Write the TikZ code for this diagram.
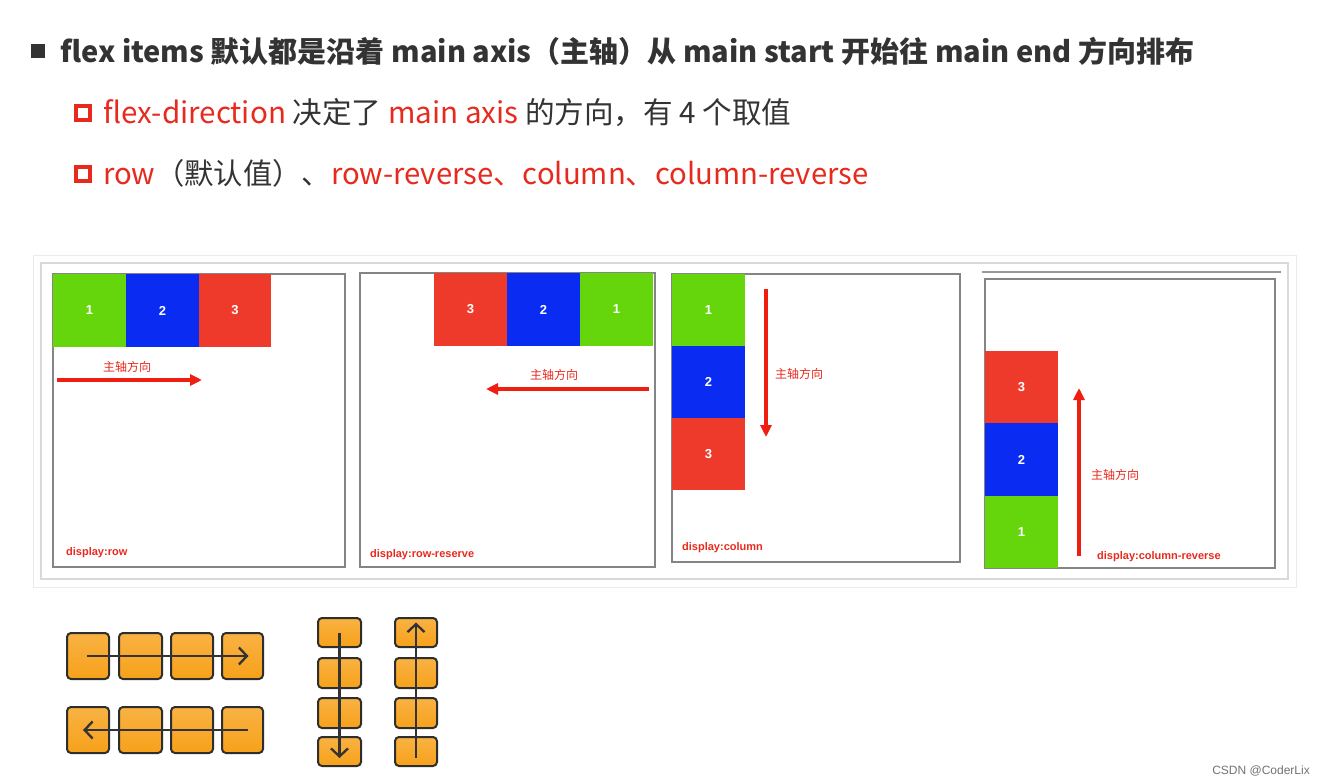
\documentclass[tikz,border=0pt]{standalone}
\usepackage{fontspec}
\newfontfamily\cjk{Noto Sans CJK SC}
\newfontfamily\lab{Liberation Sans}
\usetikzlibrary{arrows.meta}
\definecolor{hdr}{HTML}{333333}
\definecolor{rtxt}{HTML}{E82A1E}
\definecolor{igreen}{HTML}{66D60C}
\definecolor{iblue}{HTML}{0A2CF2}
\definecolor{ired}{HTML}{EE3A2B}
\definecolor{arrred}{HTML}{F01E10}
\definecolor{org}{HTML}{F7A11A}
\definecolor{bx}{HTML}{858585}
\tikzset{
  hdrtext/.style={anchor=base west, inner sep=0, text=hdr, font=\cjk\fontsize{29.3}{29.3}\selectfont},
  itembox/.style={anchor=north west, inner sep=0, outer sep=0, minimum width=73pt, minimum height=73pt, text=white, font=\lab\bfseries\fontsize{13}{13}\selectfont},
  flexbox/.style={draw=bx, line width=1.2pt},
  axislab/.style={inner sep=0, text=rtxt, font=\cjk\fontsize{12}{12}\selectfont},
  disp/.style={anchor=base west, inner sep=0, text=rtxt, font=\lab\bfseries\fontsize{11}{11}\selectfont},
  redarr/.style={draw=arrred, line width=3.5pt, -{Triangle[length=12pt,width=11pt]}},
  obox/.style={anchor=north west, inner sep=0, outer sep=0, draw=hdr!90!black, line width=2pt, rounded corners=4pt, top color=org!82!white, bottom color=org},
  barb/.style={draw=hdr, line width=2.3pt, -{Straight Barb[length=8pt,width=17pt]}},
}
\begin{document}
\begin{tikzpicture}[x=1pt,y=-1pt]
\useasboundingbox (0,0) rectangle (1325,784);
\fill[white] (0,0) rectangle (1325,784);
% header
\node[fill=hdr, minimum size=14pt, inner sep=0] (b1) at (38,51) {};
\node[hdrtext, font=\cjk\bfseries\fontsize{29}{29}\selectfont] (h1) at (60,63) {flex items 默认都是沿着 main axis（主轴）从 main start 开始往 main end 方向排布};
\node[draw=rtxt, line width=3.5pt, minimum size=14pt, inner sep=0] (b2) at (83,113) {};
\node[hdrtext, font=\cjk\fontsize{29.6}{29.6}\selectfont] (h2) at (103,123) {\textcolor{rtxt}{flex-direction} 决定了 \textcolor{rtxt}{main axis} 的方向，有 4 个取值};
\node[draw=rtxt, line width=3.5pt, minimum size=14pt, inner sep=0] (b3) at (83,174) {};
\node[hdrtext] (h3) at (103,184) {\textcolor{rtxt}{row}（默认值）、\textcolor{rtxt}{row-reverse、column、column-reverse}};
% panel
\draw[draw=black!8, line width=1pt] (33,255) rectangle (1296,587);
\draw[draw=black!15, line width=1.5pt] (41,263) rectangle (1288,579);
% box 1
\draw[flexbox] (53,274) rectangle (345,567);
\node[itembox, fill=igreen] (p1a) at (53,274) {1};
\node[itembox, fill=iblue] (p1b) at (126,274) {2};
\node[itembox, fill=ired, minimum width=72pt] (p1c) at (199,274) {3};
\node[axislab] (l1) at (127,367) {主轴方向};
\coordinate (a1s) at (57,380);
\coordinate (a1e) at (202,380);
\draw[redarr] (a1s) -- (a1e);
\node[disp] (d1) at (66,555) {display:row};
% box 2
\draw[flexbox] (360,273) rectangle (655,567);
\node[itembox, fill=ired] (p2c) at (434,273) {3};
\node[itembox, fill=iblue] (p2b) at (507,273) {2};
\node[itembox, fill=igreen] (p2a) at (580,273) {1};
\node[axislab] (l2) at (554,375) {主轴方向};
\coordinate (a2s) at (649,389);
\coordinate (a2e) at (486,389);
\draw[redarr] (a2s) -- (a2e);
\node[disp] (d2) at (370,557) {display:row-reserve};
% box 3
\draw[flexbox] (672,274) rectangle (960,562);
\node[itembox, fill=igreen, minimum height=72pt] (p3a) at (672,274) {1};
\node[itembox, fill=iblue, minimum height=72pt] (p3b) at (672,346) {2};
\node[itembox, fill=ired, minimum height=72pt] (p3c) at (672,418) {3};
\node[axislab, anchor=west] (l3) at (775,374) {主轴方向};
\coordinate (a3s) at (766,289);
\coordinate (a3e) at (766,437);
\draw[redarr] (a3s) -- (a3e);
\node[disp] (d3) at (682,550) {display:column};
% box 4
\draw[draw=black!40, line width=1.8pt] (982,272) -- (1281,272);
\draw[flexbox] (985,279) rectangle (1275,568);
\node[itembox, fill=ired, minimum height=72pt] (p4c) at (985,351) {3};
\node[itembox, fill=iblue, minimum height=73pt] (p4b) at (985,423) {2};
\node[itembox, fill=igreen, minimum height=72pt] (p4a) at (985,496) {1};
\node[axislab, anchor=west] (l4) at (1091,475) {主轴方向};
\coordinate (a4s) at (1079,556);
\coordinate (a4e) at (1079,388);
\draw[redarr] (a4s) -- (a4e);
\node[disp] (d4) at (1097,559) {display:column-reverse};
% bottom orange boxes, row 1
\node[obox, minimum width=42pt, minimum height=46pt] (r1a) at (67,633) {};
\node[obox, minimum width=43pt, minimum height=46pt] (r1b) at (119,633) {};
\node[obox, minimum width=42pt, minimum height=46pt] (r1c) at (171,633) {};
\node[obox, minimum width=41pt, minimum height=46pt] (r1d) at (222,633) {};
\draw[barb] ([xshift=-1pt]r1a.center) -- ([xshift=6pt]r1d.center);
% row 2
\node[obox, minimum width=42pt, minimum height=46pt] (r2a) at (67,707) {};
\node[obox, minimum width=43pt, minimum height=46pt] (r2b) at (119,707) {};
\node[obox, minimum width=42pt, minimum height=46pt] (r2c) at (171,707) {};
\node[obox, minimum width=41pt, minimum height=46pt] (r2d) at (222,707) {};
\draw[barb] ([xshift=5pt]r2d.center) -- ([xshift=-5pt]r2a.center);
% column 1
\node[obox, minimum width=43pt, minimum height=29pt] (c1a) at (318,618) {};
\node[obox, minimum width=43pt, minimum height=30pt] (c1b) at (318,658) {};
\node[obox, minimum width=43pt, minimum height=30pt] (c1c) at (318,698) {};
\node[obox, minimum width=43pt, minimum height=29pt] (c1d) at (318,737) {};
\draw[barb] (c1a.center) -- ([yshift=-6.5pt]c1d.center);
% column 2
\node[obox, minimum width=42pt, minimum height=29pt] (c2a) at (395,618) {};
\node[obox, minimum width=42pt, minimum height=30pt] (c2b) at (395,658) {};
\node[obox, minimum width=42pt, minimum height=30pt] (c2c) at (395,698) {};
\node[obox, minimum width=42pt, minimum height=29pt] (c2d) at (395,737) {};
\draw[barb] ([yshift=-6pt]c2d.center) -- ([yshift=10pt]c2a.center);
% watermark
\node[anchor=base east, inner sep=0, text=black!55, font=\lab\fontsize{12}{12}\selectfont] (wm) at (1310,774) {CSDN @CoderLix};
\end{tikzpicture}
\end{document}
